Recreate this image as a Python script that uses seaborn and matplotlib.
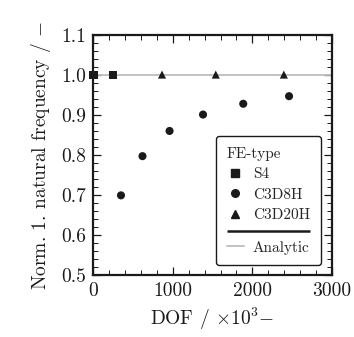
import numpy as np
import pandas as pd
import matplotlib
matplotlib.use("Agg")
import matplotlib.pyplot as plt
from matplotlib.lines import Line2D
from matplotlib.offsetbox import DrawingArea
from matplotlib.ticker import MultipleLocator, FixedLocator
import seaborn as sns

# Normalised first natural frequency vs. degrees of freedom per element type
s4_dof = [3, 12, 245]
s4_freq = [1.0, 1.0, 1.002]
c3d8h_dof = [350, 620, 960, 1380, 1885, 2460]
c3d8h_freq = [0.700, 0.798, 0.861, 0.902, 0.929, 0.948]
c3d20h_dof = [865, 1540, 2395]
c3d20h_freq = [1.002, 1.002, 1.002]
analytic_freq = 1.0

fe_types = ["S4", "C3D8H", "C3D20H"]
x_ticks = [0, 1000, 2000, 3000]
y_ticks = [0.5, 0.6, 0.7, 0.8, 0.9, 1.0, 1.1]

df = pd.DataFrame({
    "dof": s4_dof + c3d8h_dof + c3d20h_dof,
    "freq": s4_freq + c3d8h_freq + c3d20h_freq,
    "type": ["S4"] * len(s4_dof) + ["C3D8H"] * len(c3d8h_dof) + ["C3D20H"] * len(c3d20h_dof),
})

sns.set_theme(style="ticks")
plt.rcParams["font.family"] = ["cmr10", "DejaVu Serif"]
plt.rcParams["mathtext.fontset"] = "cm"
plt.rcParams["axes.formatter.use_mathtext"] = True
plt.rcParams["axes.unicode_minus"] = False

INK = "#1a1a1a"
GREY = "#bdbdbd"

fig = plt.figure(figsize=(3.54, 3.37), dpi=100)
ax = fig.add_axes([0.263, 0.183, 0.675, 0.712])

ax.axhline(analytic_freq, color=GREY, lw=1.3, zorder=1)

markers = {"S4": "s", "C3D8H": "o", "C3D20H": "^"}
sns.scatterplot(data=df, x="dof", y="freq", style="type", markers=markers,
                style_order=fe_types, color=INK, edgecolor="none",
                s=34, legend=False, ax=ax, zorder=3, clip_on=False)

ax.set_xlim(0, 3000)
ax.set_ylim(0.5, 1.1)
ax.xaxis.set_major_locator(FixedLocator(x_ticks))
ax.yaxis.set_major_locator(FixedLocator(y_ticks))
ax.xaxis.set_minor_locator(MultipleLocator(200))
ax.yaxis.set_minor_locator(MultipleLocator(0.02))
ax.set_xticklabels([str(v) for v in x_ticks])
ax.set_yticklabels([f"{v:.1f}" for v in y_ticks])

for sp in ax.spines.values():
    sp.set_visible(True)
    sp.set_linewidth(1.6)
    sp.set_color(INK)
ax.tick_params(which="both", direction="in", top=True, right=True,
               color=INK, labelsize=14, labelcolor=INK)
ax.tick_params(which="major", length=5.5, width=0.9, pad=5)
ax.tick_params(which="minor", length=3.5, width=0.7)

ax.set_xlabel(r"DOF / $\times 10^3$$-$", fontsize=14, color=INK, labelpad=4)
ax.set_ylabel(r"Norm. 1. natural frequency / $-$", fontsize=14, color=INK, labelpad=6)

handles = [
    Line2D([], [], ls="none", marker="s", color=INK, ms=5.5),
    Line2D([], [], ls="none", marker="o", color=INK, ms=5.5),
    Line2D([], [], ls="none", marker="^", color=INK, ms=5.5),
    Line2D([], [], color=GREY, lw=1.3),
]
labels = fe_types + ["Analytic"]
leg = ax.legend(handles, labels, title="FE-type", loc="lower right",
                bbox_to_anchor=(0.952, 0.042), borderaxespad=0,
                fontsize=11, title_fontsize=11,
                frameon=True, fancybox=True, edgecolor=INK,
                handlelength=1.1, handletextpad=0.6, labelspacing=0.44,
                borderpad=0.7, framealpha=1)
leg._legend_box.align = "left"
leg.get_frame().set_linewidth(1.0)
leg.set_zorder(5)

# Separator rule between the element types and the analytic reference
column = leg._legend_handle_box.get_children()[0]
fig.canvas.draw()
renderer = fig.canvas.get_renderer()
col_w = column.get_bbox(renderer).width * 72.0 / fig.dpi
rule = DrawingArea(col_w, 3.5, 0, 0)
rule.add_artist(Line2D([0, col_w], [1.75, 1.75], color=INK, lw=1.8,
                       solid_capstyle="butt"))
column.get_children().insert(3, rule)

fig.savefig("out.png", dpi=100)
